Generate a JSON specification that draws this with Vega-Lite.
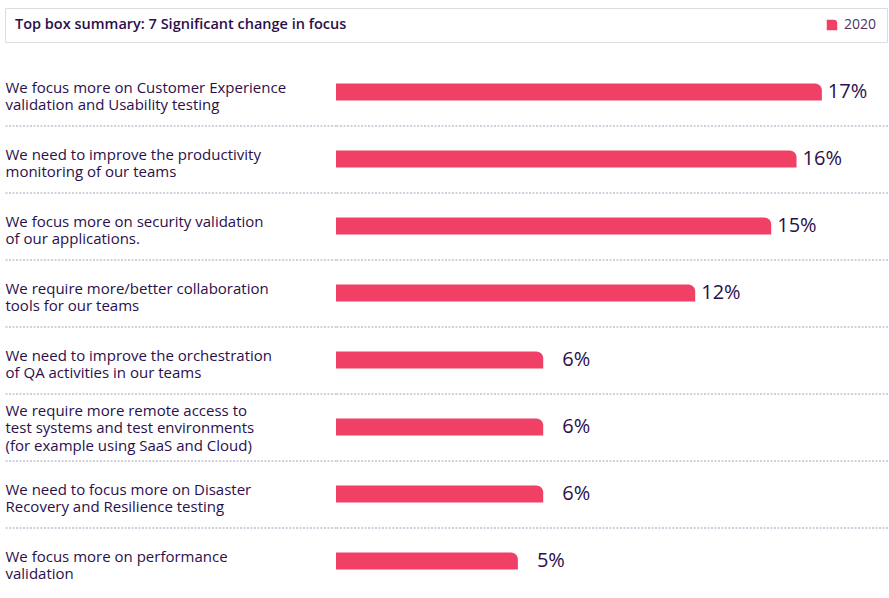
{
  "$schema": "https://vega.github.io/schema/vega-lite/v6.json",
  "width": 553,
  "height": 536,
  "autosize": {"type": "none"},
  "padding": {"left": 336, "top": 58.5, "right": 0, "bottom": 3.5},
  "background": "white",
  "config": {"view": {"stroke": null}, "font": "Open Sans"},
  "data": {
    "values": [
      {"statement": "We focus more on Customer Experience|validation and Usability testing", "value": 0.17, "year": "2020"},
      {"statement": "We need to improve the productivity|monitoring of our teams", "value": 0.16, "year": "2020"},
      {"statement": "We focus more on security validation|of our applications.", "value": 0.15, "year": "2020"},
      {"statement": "We require more/better collaboration|tools for our teams", "value": 0.12, "year": "2020"},
      {"statement": "We need to improve the orchestration|of QA activities in our teams", "value": 0.06, "year": "2020"},
      {"statement": "We require more remote access to|test systems and test environments|(for example using SaaS and Cloud)", "value": 0.06, "year": "2020"},
      {"statement": "We need to focus more on Disaster|Recovery and Resilience testing", "value": 0.06, "year": "2020"},
      {"statement": "We focus more on performance|validation", "value": 0.05, "year": "2020"}
    ]
  },
  "encoding": {
    "y": {
      "field": "statement",
      "type": "nominal",
      "sort": null,
      "scale": {"paddingInner": 0, "paddingOuter": 0},
      "axis": {
        "title": null,
        "domain": false,
        "ticks": true,
        "tickBand": "extent",
        "tickSize": 331,
        "tickColor": "#c5c1d3",
        "tickDash": [2, 1.5],
        "tickWidth": 1.5,
        "tickOpacity": {"condition": {"test": "!datum.value || datum.value === 'We focus more on performance|validation'", "value": 0}, "value": 1},
        "grid": true,
        "gridColor": "#c5c1d3",
        "gridDash": [2, 1.5],
        "gridWidth": 1.5,
        "gridOpacity": {"condition": {"test": "!datum.value || datum.value === 'We focus more on performance|validation'", "value": 0}, "value": 1},
        "labelAlign": "left",
        "labelPadding": 0,
        "labelFontSize": 15,
        "labelColor": "#2b0f4c",
        "labelLineHeight": 17.5,
        "labelLimit": 330,
        "labelOffset": {"condition": {"test": "length(split(datum.value, '|')) > 2", "value": -17}, "value": -5},
        "labelExpr": "split(datum.label, '|')"
      }
    }
  },
  "layer": [
    {
      "mark": {"type": "bar", "height": 17, "cornerRadiusTopRight": 7},
      "encoding": {
        "x": {"field": "value", "type": "quantitative", "scale": {"domain": [-0.0218, 0.1965], "nice": false, "zero": false}, "axis": null},
        "x2": {"datum": -0.0218},
        "color": {
          "field": "year",
          "type": "nominal",
          "scale": {"range": ["#f04066"]},
          "legend": {
            "orient": "none",
            "legendX": -331,
            "legendY": -50.5,
            "direction": "horizontal",
            "title": "Top box summary: 7 Significant change in focus",
            "titleOrient": "left",
            "titleFontSize": 14.5,
            "titleFontWeight": 600,
            "titleColor": "#2b0f4c",
            "titleLimit": 600,
            "titlePadding": 478,
            "strokeColor": "#dddbe4",
            "padding": 10,
            "symbolType": "M-1,-1H0.4A0.6,0.6 0 0 1 1,-0.4V1H-1Z",
            "symbolSize": 110,
            "symbolStrokeWidth": 0,
            "labelFontSize": 14,
            "labelColor": "#4b3468",
            "labelOffset": 5
          }
        }
      }
    },
    {
      "transform": [{"filter": "datum.value >= 0.1"}],
      "mark": {"type": "text", "align": "left", "dx": 6, "fontSize": 20, "color": "#2b0f4c"},
      "encoding": {
        "x": {"field": "value", "type": "quantitative"},
        "text": {"field": "value", "type": "quantitative", "format": ".0%"}
      }
    },
    {
      "transform": [{"filter": "datum.value < 0.1"}],
      "mark": {"type": "text", "align": "left", "dx": 19, "fontSize": 20, "color": "#2b0f4c"},
      "encoding": {
        "x": {"field": "value", "type": "quantitative"},
        "text": {"field": "value", "type": "quantitative", "format": ".0%"}
      }
    }
  ]
}
